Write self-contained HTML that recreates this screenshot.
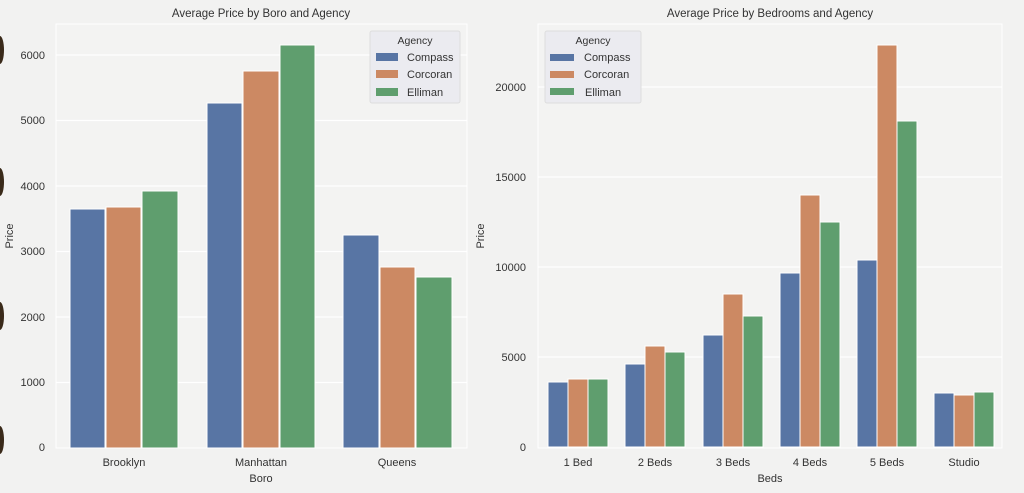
<!DOCTYPE html>
<html><head><style>
html,body{margin:0;padding:0;background:#f2f2f1;}
svg{display:block;font-family:"Liberation Sans",sans-serif;}
</style></head><body>
<svg width="1024" height="493" viewBox="0 0 1024 493">
<rect width="1024" height="493" fill="#f2f2f1"/>
<!-- left edge partial circles -->
<ellipse cx="0" cy="50" rx="4" ry="14" fill="#3a2a1a"/>
<ellipse cx="0" cy="182" rx="4" ry="14" fill="#3a2a1a"/>
<ellipse cx="0" cy="316" rx="4" ry="14" fill="#3a2a1a"/>
<ellipse cx="0" cy="440" rx="4" ry="14" fill="#3a2a1a"/>

<!-- LEFT CHART -->
<rect x="56" y="24" width="411" height="424" fill="#f3f3f2" stroke="#fff" stroke-width="1"/>
<g stroke="#fff" stroke-width="1.2">
<line x1="56" x2="467" y1="55" y2="55"/><line x1="56" x2="467" y1="120.5" y2="120.5"/>
<line x1="56" x2="467" y1="186" y2="186"/><line x1="56" x2="467" y1="251.5" y2="251.5"/>
<line x1="56" x2="467" y1="317" y2="317"/><line x1="56" x2="467" y1="382.5" y2="382.5"/>
</g>
<g font-size="11" fill="#333" text-anchor="end">
<text x="45" y="59">6000</text><text x="45" y="124">5000</text><text x="45" y="190">4000</text>
<text x="45" y="255">3000</text><text x="45" y="321">2000</text><text x="45" y="386">1000</text><text x="45" y="451">0</text>
</g>
<g stroke="#fff" stroke-width="1">
<rect x="70" y="209" width="35" height="239" fill="#5875a4"/>
<rect x="106" y="207" width="35" height="241" fill="#cc8963"/>
<rect x="142" y="191" width="36" height="257" fill="#5f9e6e"/>
<rect x="207" y="103" width="35" height="345" fill="#5875a4"/>
<rect x="243" y="71" width="36" height="377" fill="#cc8963"/>
<rect x="280" y="45" width="35" height="403" fill="#5f9e6e"/>
<rect x="343" y="235" width="36" height="213" fill="#5875a4"/>
<rect x="380" y="267" width="35" height="181" fill="#cc8963"/>
<rect x="416" y="277" width="36" height="171" fill="#5f9e6e"/>
</g>
<text x="261" y="17" font-size="11.5" fill="#333" text-anchor="middle">Average Price by Boro and Agency</text>
<g font-size="11" fill="#333" text-anchor="middle">
<text x="124" y="466">Brooklyn</text><text x="261" y="466">Manhattan</text><text x="397" y="466">Queens</text>
<text x="261" y="482">Boro</text>
</g>
<text transform="translate(13,236) rotate(-90)" font-size="11" fill="#333" text-anchor="middle">Price</text>
<rect x="370" y="31" width="90" height="72" rx="2" fill="#ebebf0" stroke="#ddd"/>
<text x="415" y="44" font-size="10.5" fill="#333" text-anchor="middle">Agency</text>
<rect x="376" y="53" width="22" height="8" fill="#5875a4"/><text x="407" y="61" font-size="11" fill="#333">Compass</text>
<rect x="376" y="70" width="22" height="8" fill="#cc8963"/><text x="407" y="78" font-size="11" fill="#333">Corcoran</text>
<rect x="376" y="88" width="22" height="8" fill="#5f9e6e"/><text x="407" y="96" font-size="11" fill="#333">Elliman</text>

<!-- RIGHT CHART -->
<rect x="538" y="24" width="464" height="424" fill="#f3f3f2" stroke="#fff" stroke-width="1"/>
<g stroke="#fff" stroke-width="1.2">
<line x1="538" x2="1002" y1="87" y2="87"/><line x1="538" x2="1002" y1="177" y2="177"/>
<line x1="538" x2="1002" y1="267" y2="267"/><line x1="538" x2="1002" y1="357" y2="357"/>
</g>
<g font-size="11" fill="#333" text-anchor="end">
<text x="526" y="91">20000</text><text x="526" y="181">15000</text><text x="526" y="271">10000</text>
<text x="526" y="361">5000</text><text x="526" y="451">0</text>
</g>
<g stroke="#fff" stroke-width="1">
<rect x="548" y="382" width="20" height="65" fill="#5875a4"/><rect x="568" y="379" width="20" height="68" fill="#cc8963"/><rect x="588" y="379" width="20" height="68" fill="#5f9e6e"/>
<rect x="625" y="364" width="20" height="83" fill="#5875a4"/><rect x="645" y="346" width="20" height="101" fill="#cc8963"/><rect x="665" y="352" width="20" height="95" fill="#5f9e6e"/>
<rect x="703" y="335" width="20" height="112" fill="#5875a4"/><rect x="723" y="294" width="20" height="153" fill="#cc8963"/><rect x="743" y="316" width="20" height="131" fill="#5f9e6e"/>
<rect x="780" y="273" width="20" height="174" fill="#5875a4"/><rect x="800" y="195" width="20" height="252" fill="#cc8963"/><rect x="820" y="222" width="20" height="225" fill="#5f9e6e"/>
<rect x="857" y="260" width="20" height="187" fill="#5875a4"/><rect x="877" y="45" width="20" height="402" fill="#cc8963"/><rect x="897" y="121" width="20" height="326" fill="#5f9e6e"/>
<rect x="934" y="393" width="20" height="54" fill="#5875a4"/><rect x="954" y="395" width="20" height="52" fill="#cc8963"/><rect x="974" y="392" width="20" height="55" fill="#5f9e6e"/>
</g>
<text x="770" y="17" font-size="11.5" fill="#333" text-anchor="middle">Average Price by Bedrooms and Agency</text>
<g font-size="11" fill="#333" text-anchor="middle">
<text x="578" y="466">1 Bed</text><text x="655" y="466">2 Beds</text><text x="733" y="466">3 Beds</text>
<text x="810" y="466">4 Beds</text><text x="887" y="466">5 Beds</text><text x="964" y="466">Studio</text>
<text x="770" y="482">Beds</text>
</g>
<text transform="translate(484,236) rotate(-90)" font-size="11" fill="#333" text-anchor="middle">Price</text>
<rect x="545" y="31" width="96" height="72" rx="2" fill="#ebebf0" stroke="#ddd"/>
<text x="593" y="44" font-size="10.5" fill="#333" text-anchor="middle">Agency</text>
<rect x="550" y="54" width="24" height="7" fill="#5875a4"/><text x="584" y="61" font-size="11" fill="#333">Compass</text>
<rect x="550" y="71" width="24" height="7" fill="#cc8963"/><text x="584" y="78" font-size="11" fill="#333">Corcoran</text>
<rect x="550" y="88" width="24" height="7" fill="#5f9e6e"/><text x="585" y="96" font-size="11" fill="#333">Elliman</text>
</svg>
</body></html>
